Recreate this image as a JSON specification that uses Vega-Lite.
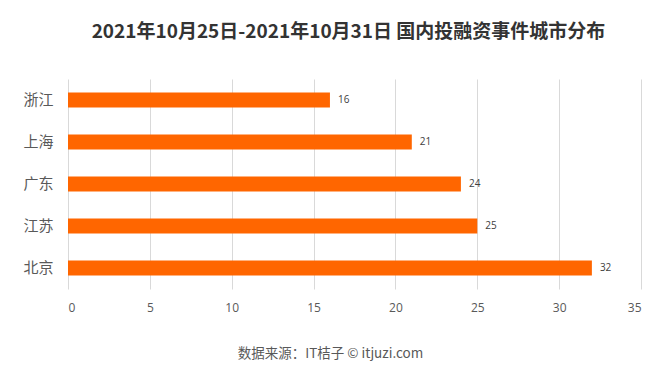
{
  "$schema": "https://vega.github.io/schema/vega-lite/v6.json",
  "width": 573,
  "height": 210,
  "autosize": {"type": "none"},
  "padding": {"left": 68, "top": 79, "right": 24, "bottom": 80},
  "background": "#ffffff",
  "title": {
    "text": "2021年10月25日-2021年10月31日 国内投融资事件城市分布",
    "font": "Noto Sans CJK SC",
    "fontSize": 19,
    "fontWeight": "bold",
    "color": "#333333",
    "anchor": "middle",
    "offset": 37,
    "dx": -6
  },
  "data": {
    "values": [
      {"city": "浙江", "count": 16},
      {"city": "上海", "count": 21},
      {"city": "广东", "count": 24},
      {"city": "江苏", "count": 25},
      {"city": "北京", "count": 32}
    ]
  },
  "encoding": {
    "y": {
      "field": "city",
      "type": "nominal",
      "sort": null,
      "scale": {"paddingInner": 0, "paddingOuter": 0},
      "axis": {
        "title": null,
        "domain": false,
        "ticks": false,
        "labelFont": "Noto Sans CJK SC",
        "labelFontSize": 15,
        "labelColor": "#595959",
        "labelPadding": 15
      }
    },
    "x": {
      "field": "count",
      "type": "quantitative",
      "scale": {"domain": [0, 35]},
      "axis": {
        "values": [0, 5, 10, 15, 20, 25, 30, 35],
        "title": "数据来源：IT桔子 © itjuzi.com",
        "titleFont": "Noto Sans CJK SC",
        "titleFontSize": 13.5,
        "titleFontWeight": "normal",
        "titleColor": "#595959",
        "titleX": 262,
        "titleY": 57,
        "domain": false,
        "ticks": false,
        "grid": true,
        "gridColor": "#d9d9d9",
        "labelFont": "Open Sans",
        "labelFontSize": 12,
        "labelColor": "#595959",
        "labelPadding": 13
      }
    }
  },
  "layer": [
    {"mark": {"type": "bar", "size": 15, "color": "#ff6600"}},
    {
      "mark": {"type": "text", "align": "left", "dx": 8, "font": "Open Sans", "fontSize": 10, "color": "#404040"},
      "encoding": {"text": {"field": "count", "type": "quantitative"}}
    }
  ],
  "config": {"view": {"stroke": null}}
}
